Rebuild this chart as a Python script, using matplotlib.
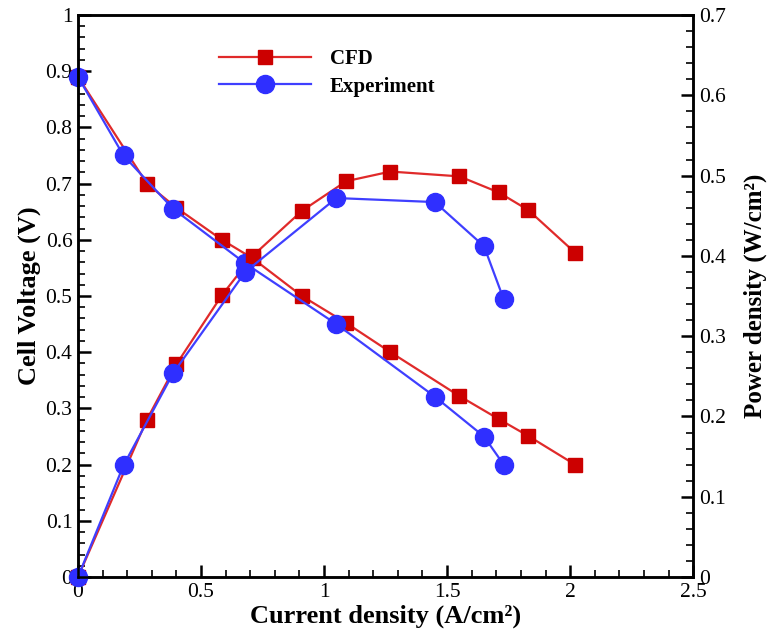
"""PEM fuel cell polarization and power density curves: CFD vs experiment"""

import matplotlib
matplotlib.use("Agg")
import matplotlib.pyplot as plt
from matplotlib.ticker import MultipleLocator

plt.rcParams["font.family"] = ["Liberation Serif", "DejaVu Serif"]

# CFD results
cfd_current = [0.0, 0.28, 0.40, 0.585, 0.71, 0.91, 1.09, 1.27, 1.55, 1.71, 1.83, 2.02]
cfd_voltage = [0.89, 0.70, 0.657, 0.60, 0.567, 0.50, 0.452, 0.40, 0.322, 0.281, 0.251, 0.20]
cfd_power = [0.0, 0.196, 0.265, 0.351, 0.40, 0.456, 0.493, 0.505, 0.499, 0.479, 0.457, 0.404]

# experimental data
exp_current = [0.0, 0.185, 0.387, 0.68, 1.05, 1.45, 1.65, 1.73]
exp_voltage = [0.89, 0.75, 0.655, 0.558, 0.45, 0.321, 0.25, 0.20]
exp_power = [0.0, 0.139, 0.254, 0.38, 0.472, 0.467, 0.412, 0.346]

RED_LINE = "#E02A2A"
RED_MARK = "#CC0000"
BLUE_LINE = "#3F3FFF"
BLUE_MARK = "#2F2FFF"

fig = plt.figure(figsize=(7.69, 6.35), dpi=100)
ax = fig.add_axes([0.1014, 0.0913, 0.80, 0.8851])
ax2 = ax.twinx()

red_kw = dict(color=RED_LINE, lw=1.6, marker="s", ms=10,
              mfc=RED_MARK, mec=RED_MARK, clip_on=False)
blue_kw = dict(color=BLUE_LINE, lw=1.6, marker="o", ms=13,
               mfc=BLUE_MARK, mec=BLUE_MARK, clip_on=False)

l_cfd, = ax.plot(cfd_current, cfd_voltage, **red_kw)
l_exp, = ax.plot(exp_current, exp_voltage, **blue_kw)
ax2.plot(cfd_current, cfd_power, **red_kw)
ax2.plot(exp_current, exp_power, **blue_kw)

ax.set_xlim(0, 2.5)
ax.set_ylim(0, 1)
ax2.set_ylim(0, 0.7)

ax.xaxis.set_major_locator(MultipleLocator(0.5))
ax.xaxis.set_minor_locator(MultipleLocator(0.1))
ax.yaxis.set_major_locator(MultipleLocator(0.1))
ax.yaxis.set_minor_locator(MultipleLocator(0.02))
ax2.yaxis.set_major_locator(MultipleLocator(0.1))
ax2.yaxis.set_minor_locator(MultipleLocator(0.02))

ax.xaxis.set_major_formatter(plt.FuncFormatter(lambda v, p: f"{v:g}"))
ax.yaxis.set_major_formatter(plt.FuncFormatter(lambda v, p: f"{v:g}"))
ax2.yaxis.set_major_formatter(plt.FuncFormatter(lambda v, p: f"{v:g}"))

for a in (ax, ax2):
    for s in a.spines.values():
        s.set_linewidth(1.8)
    a.tick_params(which="major", direction="in", length=9, width=1.8,
                  labelsize=15.5, pad=4)
    a.tick_params(which="minor", direction="in", length=5, width=1.2)
ax.tick_params(axis="x", which="both", top=False)
ax.tick_params(axis="y", which="both", right=False)

ax.set_xlabel("Current density (A/cm²)", fontsize=19,
              fontweight="bold", labelpad=2)
ax.set_ylabel("Cell Voltage (V)", fontsize=19, fontweight="bold", labelpad=3)
ax2.set_ylabel("Power density (W/cm²)", fontsize=18,
               fontweight="bold", labelpad=13)

ax2.legend([l_cfd, l_exp], ["CFD", "Experiment"], loc="upper left",
           bbox_to_anchor=(0.199, 0.972), frameon=False, handlelength=4.4,
           handletextpad=0.9, labelspacing=0.35,
           prop={"weight": "bold", "size": 15})

fig.savefig("out.png", dpi=100)
